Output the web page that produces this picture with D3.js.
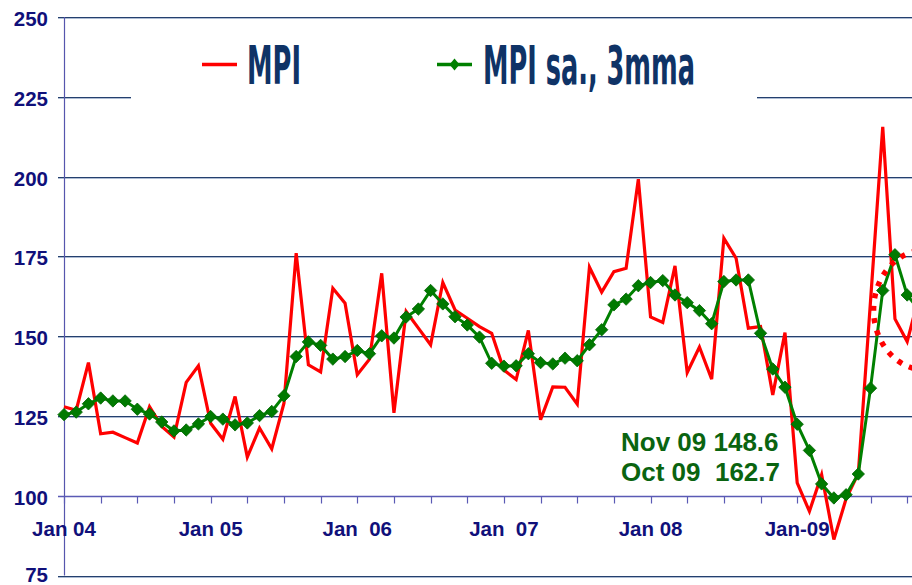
<!DOCTYPE html>
<html>
<head>
<meta charset="utf-8">
<script src="https://cdn.jsdelivr.net/npm/d3@7"></script>
<style>
  body { margin: 0; background: #fff; }
  svg { display: block; }
  .tick-label { font-family: "Liberation Sans", Arial, sans-serif; font-weight: bold; fill: #10107a; white-space: pre; }
</style>
</head>
<body>
<svg id="chart" width="912" height="585"></svg>
<script>
// month index 0 = Jan 04
let monthCount = 71;
let yearTicks = [0, 12, 24, 36, 48, 60];
let yearLabels = ["Jan 04", "Jan 05", "Jan  06", "Jan  07", "Jan 08", "Jan-09"];
let yTicks = [75, 100, 125, 150, 175, 200, 225, 250];

let mpi = [
  127.9, 126.8, 141.7, 119.4, 119.9, 118.2, 116.5, 127.9, 121.7, 118.4, 135.5, 140.7,
  122.7, 117.7, 131.1, 112.1, 121.2, 114.7, 129.0, 176.0, 141.0, 138.8, 165.0, 160.3,
  137.9, 142.8, 169.7, 126.0, 157.7, 152.5, 147.3, 166.8, 158.2, 155.6, 153.0, 150.9,
  139.4, 136.4, 151.8, 123.8, 134.1, 134.0, 128.7, 171.6, 163.8, 170.2, 171.3, 199.2,
  156.0, 154.3, 172.0, 138.6, 146.6, 136.5, 180.7, 174.4, 152.5, 153.0, 131.6, 151.1,
  104.0, 95.1, 106.6, 86.3, 99.0, 107.0, 161.0, 215.6, 155.4, 148.3, 163.0
];
let mpiSa3mma = [
  125.4, 126.2, 128.8, 130.6, 129.7, 129.7, 127.1, 125.6, 123.1, 120.3, 120.6, 122.5,
  124.8, 124.0, 122.2, 122.8, 125.1, 126.4, 131.3, 143.6, 148.2, 147.1, 142.8, 143.6,
  145.5, 144.5, 150.1, 149.4, 156.0, 158.5, 164.3, 160.1, 156.1, 153.5, 149.7, 141.5,
  140.6, 140.7, 144.5, 141.7, 141.3, 143.1, 142.3, 147.3, 152.0, 159.8, 161.6, 165.8,
  166.8, 167.4, 162.9, 160.5, 158.0, 153.9, 167.1, 167.6, 167.6, 150.9, 139.7, 134.0,
  122.4, 114.2, 103.7, 99.3, 100.3, 106.8, 133.7, 164.3, 175.5, 162.9, 158.0
];
let noteLines = ["Nov 09 148.6", "Oct 09  162.7"];

let svg = d3.select("#chart");
let x = d3.scaleLinear().domain([0, 70]).range([64, 64 + 70 * 12.22]);
let y = d3.scaleLinear().domain([75, 250]).range([575.5, 17]);
let px = v => Math.round(v) + 0.5;

// gridlines (two-tone like the original)
let grid = svg.append("g");
yTicks.filter(v => v !== 100).forEach(v => {
  let yy = px(y(v));
  let segs = v === 225 ? [[58, 131], [757, 912]] : [[58, 912]];
  segs.forEach(s => {
    grid.append("line").attr("x1", s[0]).attr("x2", s[1]).attr("y1", yy).attr("y2", yy)
      .attr("stroke", "#24406e").attr("stroke-width", 1);
    grid.append("line").attr("x1", s[0]).attr("x2", s[1]).attr("y1", yy + 1).attr("y2", yy + 1)
      .attr("stroke", "#aebcd3").attr("stroke-width", 1);
  });
});

// y axis
svg.append("line").attr("x1", 64.5).attr("x2", 64.5).attr("y1", y(250)).attr("y2", y(75))
  .attr("stroke", "#5656ad").attr("stroke-width", 1.2);
svg.append("g").selectAll("text").data(yTicks).join("text")
  .attr("class", "tick-label")
  .attr("x", 48).attr("y", d => Math.min(y(d) + 9, 582))
  .attr("text-anchor", "end")
  .attr("font-size", 20.5)
  .text(d => d);

// category axis crossing at 100
let xAxisY = px(y(100));
svg.append("line").attr("x1", 58).attr("x2", 912).attr("y1", xAxisY).attr("y2", xAxisY)
  .attr("stroke", "#5a5ab5").attr("stroke-width", 1.3);
svg.append("g").selectAll("line").data(d3.range(0, monthCount, 3)).join("line")
  .attr("x1", d => px(x(d))).attr("x2", d => px(x(d)))
  .attr("y1", xAxisY).attr("y2", xAxisY + 7)
  .attr("stroke", "#5a5ab5").attr("stroke-width", 1.2);
svg.append("g").selectAll("text").data(yearTicks).join("text")
  .attr("class", "tick-label")
  .attr("x", d => x(d)).attr("y", 536)
  .attr("text-anchor", "middle")
  .attr("font-size", 20.5)
  .text((d, i) => yearLabels[i]);

// series
let line = d3.line().x((d, i) => x(i)).y(d => y(d));
svg.append("path").datum(mpi)
  .attr("d", line).attr("fill", "none")
  .attr("stroke", "#ff0000").attr("stroke-width", 3.2).attr("stroke-linejoin", "miter");

svg.append("path").datum(mpiSa3mma)
  .attr("d", line).attr("fill", "none")
  .attr("stroke", "#008000").attr("stroke-width", 3);

let diamond = "M0,-6.2L6.2,0L0,6.2L-6.2,0Z";
svg.append("g").selectAll("path").data(mpiSa3mma).join("path")
  .attr("d", diamond)
  .attr("transform", (d, i) => `translate(${x(i)},${y(d)})`)
  .attr("fill", "#007a00").attr("stroke", "#006400").attr("stroke-width", 0.8);

// dotted ellipse highlighting the latest months
svg.append("ellipse")
  .attr("cx", x(70.5)).attr("cy", y(158.2))
  .attr("rx", x(4.25) - x(0)).attr("ry", y(140) - y(158.8))
  .attr("fill", "none").attr("stroke", "#ff0000")
  .attr("stroke-width", 5.5).attr("stroke-dasharray", "5 7.5");

// legend
let legend = svg.append("g");
legend.append("rect").attr("x", 132).attr("y", 24).attr("width", 624).attr("height", 80).attr("fill", "#fff");
legend.append("line").attr("x1", 202).attr("x2", 237).attr("y1", 64.5).attr("y2", 64.5)
  .attr("stroke", "#ff0000").attr("stroke-width", 3.5);
legend.append("line").attr("x1", 437).attr("x2", 472).attr("y1", 64.5).attr("y2", 64.5)
  .attr("stroke", "#008000").attr("stroke-width", 3.5);
legend.append("path").attr("d", "M0,-6L5,0L0,6L-5,0Z")
  .attr("transform", "translate(454.5,64.5)").attr("fill", "#008000");
let legendFont = '"Liberation Sans Narrow", "DejaVu Sans Condensed", "Arial Narrow", sans-serif';
[["MPI", 247, 54], ["MPI sa., 3mma", 483, 212]].forEach(t => {
  legend.append("text")
    .attr("x", t[1]).attr("y", 83.5)
    .attr("font-family", legendFont).attr("font-weight", "bold")
    .attr("font-size", 53).attr("fill", "#0f3366")
    .attr("textLength", t[2]).attr("lengthAdjust", "spacingAndGlyphs")
    .text(t[0]);
});

// annotation
svg.append("g").selectAll("text").data(noteLines).join("text")
  .attr("x", 621).attr("y", (d, i) => 451 + i * 30)
  .attr("font-family", '"Liberation Sans", Arial, sans-serif')
  .attr("font-weight", "bold").attr("font-size", 26)
  .attr("fill", "#0a6410")
  .style("white-space", "pre")
  .text(d => d);
</script>
</body>
</html>
